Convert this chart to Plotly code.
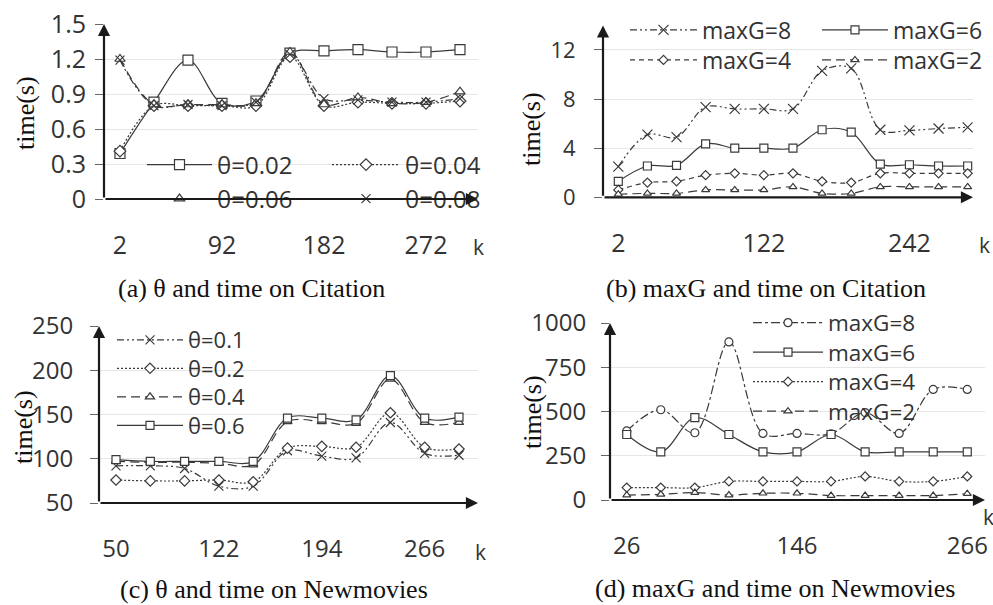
import plotly.graph_objects as go

W, H = 993, 605

# ---------------- data ----------------
k_a = [2, 32, 62, 92, 122, 152, 182, 212, 242, 272, 302]
theta002_a = [0.39, 0.83, 1.19, 0.82, 0.84, 1.25, 1.27, 1.28, 1.26, 1.26, 1.28]
theta004_a = [0.41, 0.80, 0.80, 0.80, 0.80, 1.22, 0.80, 0.83, 0.82, 0.82, 0.84]
theta006_a = [1.20, 0.81, 0.81, 0.81, 0.82, 1.26, 0.81, 0.87, 0.82, 0.83, 0.92]
theta008_a = [1.19, 0.80, 0.81, 0.80, 0.83, 1.24, 0.86, 0.85, 0.83, 0.83, 0.86]
ticks_a = [2, 92, 182, 272]

k_b = [2, 26, 50, 74, 98, 122, 146, 170, 194, 218, 242, 266, 290]
maxG8_b = [2.5, 5.1, 4.9, 7.35, 7.2, 7.2, 7.2, 10.3, 10.5, 5.5, 5.45, 5.6, 5.7]
maxG6_b = [1.3, 2.55, 2.6, 4.35, 4.0, 4.0, 4.0, 5.5, 5.3, 2.7, 2.65, 2.55, 2.55]
maxG4_b = [0.6, 1.2, 1.3, 1.8, 1.95, 1.8, 1.95, 1.3, 1.2, 1.95, 1.95, 1.95, 1.95]
maxG2_b = [0.25, 0.32, 0.32, 0.6, 0.6, 0.6, 0.85, 0.32, 0.32, 0.85, 0.85, 0.85, 0.85]
ticks_b = [2, 122, 242]

k_c = [50, 74, 98, 122, 146, 170, 194, 218, 242, 266, 290]
theta01_c = [92, 92, 89, 69, 69, 109, 103, 101, 141, 106, 104]
theta02_c = [76, 75, 75, 76, 74, 112, 114, 113, 152, 113, 111]
theta04_c = [97, 96, 96, 95, 93, 142, 142, 140, 190, 141, 141]
theta06_c = [99, 97, 97, 97, 97, 146, 146, 144, 194, 146, 147]
ticks_c = [50, 122, 194, 266]

k_d = [26, 50, 74, 98, 122, 146, 170, 194, 218, 242, 266]
maxG8_d = [390, 510, 380, 893, 376, 376, 374, 494, 376, 625, 625]
maxG6_d = [370, 272, 465, 370, 272, 272, 370, 272, 272, 272, 272]
maxG4_d = [70, 70, 70, 105, 105, 105, 105, 133, 105, 105, 133]
maxG2_d = [28, 32, 42, 28, 38, 38, 25, 25, 25, 25, 36]
ticks_d = [26, 146, 266]

captions = ["(a) θ and time on Citation", "(b) maxG and time on Citation",
            "(c) θ and time on Newmovies", "(d) maxG and time on Newmovies"]

# ---------------- styles ----------------
LC = "#3a3a3a"
SANS = "Open Sans"
SERIF = "Liberation Serif"
DASHDOTDOT = "7px,3px,2px,3px,2px,3px"
DOT = "2px,2px"
SDASH = "5px,4px"
LDASH = "9px,5px"


def px(x):
    return x / W


def py(y):
    return 1 - y / H


fig = go.Figure()
legends = {}
leg_count = [0]


def add(x, y, name, dash, symbol, size, xa, ya, leg_pos, fsize):
    """leg_pos = (line_start_px, line_len_px, row_center_px)"""
    leg_count[0] += 1
    lid = "legend" if leg_count[0] == 1 else "legend%d" % leg_count[0]
    ls, ll, ry = leg_pos
    legends[lid] = dict(x=px(ls - 5), y=py(ry), xanchor="left", yanchor="middle",
                        orientation="v", itemwidth=ll, bgcolor="rgba(0,0,0,0)",
                        borderwidth=0, font=dict(family=SANS, size=fsize, color="#333"))
    is_x = symbol.startswith("x")
    fig.add_trace(go.Scatter(
        x=x, y=y, name=name, mode="lines+markers",
        line=dict(color=LC, width=1.2, dash=dash, shape="spline", smoothing=1.0),
        marker=dict(symbol=symbol, size=size, color=LC if is_x else "white",
                    line=dict(color=LC, width=1.2)),
        xaxis=xa, yaxis=ya, legend=lid,
    ))


# panel a
add(k_a, theta002_a, "θ=0.02", "solid", "square", 10, "x", "y", (147, 65, 165), 24)
add(k_a, theta004_a, "θ=0.04", DOT, "diamond", 9, "x", "y", (332, 68, 165), 24)
add(k_a, theta006_a, "θ=0.06", LDASH, "triangle-up", 9, "x", "y", (147, 65, 199), 24)
add(k_a, theta008_a, "θ=0.08", DASHDOTDOT, "x-thin", 9, "x", "y", (332, 68, 199), 24)
# panel b
add(k_b, maxG8_b, "maxG=8", DASHDOTDOT, "x-thin", 10, "x2", "y2", (630, 67, 30), 23)
add(k_b, maxG6_b, "maxG=6", "solid", "square", 8, "x2", "y2", (822, 66, 30), 23)
add(k_b, maxG4_b, "maxG=4", SDASH, "diamond", 7, "x2", "y2", (630, 67, 60), 23)
add(k_b, maxG2_b, "maxG=2", LDASH, "triangle-up", 7, "x2", "y2", (822, 66, 60), 23)
# panel c
add(k_c, theta01_c, "θ=0.1", DASHDOTDOT, "x-thin", 9, "x3", "y3", (117, 66, 340), 22)
add(k_c, theta02_c, "θ=0.2", DOT, "diamond", 8, "x3", "y3", (117, 66, 368.5), 22)
add(k_c, theta04_c, "θ=0.4", LDASH, "triangle-up", 8, "x3", "y3", (117, 66, 397), 22)
add(k_c, theta06_c, "θ=0.6", "solid", "square", 8, "x3", "y3", (117, 66, 425.5), 22)
# panel d
add(k_d, maxG8_d, "maxG=8", "dashdot", "circle", 8, "x4", "y4", (753, 70, 323), 22.5)
add(k_d, maxG6_d, "maxG=6", "solid", "square", 8, "x4", "y4", (753, 70, 352.5), 22.5)
add(k_d, maxG4_d, "maxG=4", DOT, "diamond", 7, "x4", "y4", (753, 70, 382), 22.5)
add(k_d, maxG2_d, "maxG=2", LDASH, "triangle-up", 7, "x4", "y4", (753, 70, 411.5), 22.5)

panels = [
    dict(xd=(104, 478), yd=(24, 199), xr=[-12.1, 317.9], yr=[0, 1.5], xt=ticks_a,
         yt=[0, 0.3, 0.6, 0.9, 1.2, 1.5], ytt=["0", "0.3", "0.6", "0.9", "1.2", "1.5"],
         yf=25, xf=25, ys=4),
    dict(xd=(603, 973), yd=(25.4, 197.3), xr=[-10.6, 294.4], yr=[0, 14], xt=ticks_b,
         yt=[0, 4, 8, 12], ytt=["0", "4", "8", "12"], yf=22, xf=25, ys=14),
    dict(xd=(99, 478), yd=(326, 503), xr=[38.1, 303.3], yr=[50, 250], xt=ticks_c,
         yt=[50, 100, 150, 200, 250], ytt=["50", "100", "150", "200", "250"],
         yf=24, xf=24, ys=12),
    dict(xd=(610, 985), yd=(323, 500), xr=[14.2, 278.5], yr=[0, 1000], xt=ticks_d,
         yt=[0, 250, 500, 750, 1000], ytt=["0", "250", "500", "750", "1000"],
         yf=24, xf=24, ys=10),
]

layout = {}
annotations = []
for i, p in enumerate(panels):
    sfx = "" if i == 0 else str(i + 1)
    layout["xaxis" + sfx] = dict(
        domain=[px(p["xd"][0]), px(p["xd"][1])], range=p["xr"],
        tickvals=p["xt"], ticktext=[str(v) for v in p["xt"]],
        showgrid=False, zeroline=False, showline=False, ticks="",
        ticklabelstandoff=29, tickfont=dict(family=SANS, size=p["xf"], color="#333"),
        anchor="y" + sfx, fixedrange=True, automargin=False,
    )
    layout["yaxis" + sfx] = dict(
        domain=[py(p["yd"][1]), py(p["yd"][0])], range=p["yr"],
        tickvals=p["yt"], ticktext=p["ytt"],
        showgrid=True, gridcolor="#e6e6e6", gridwidth=1, zeroline=False, showline=False,
        ticks="outside", ticklen=8, tickcolor="#666", tickwidth=1,
        ticklabelstandoff=p["ys"], tickfont=dict(family=SANS, size=p["yf"], color="#333"),
        anchor="x" + sfx, fixedrange=True, automargin=False,
    )
    xr = "x" + sfx + " domain"
    yr = "y" + sfx + " domain"
    for (tx, ty) in [(1, 0), (0, 1)]:
        annotations.append(dict(
            xref=xr, yref=yr, axref=xr, ayref=yr, x=tx, y=ty, ax=0, ay=0,
            text="", showarrow=True, arrowhead=2, arrowsize=1.1, arrowwidth=2.2,
            arrowcolor="#1a1a1a", standoff=0, startstandoff=0,
        ))

# "k" labels
for (kx, ky) in [(478, 247), (984, 245), (480, 552), (988, 517)]:
    annotations.append(dict(xref="paper", yref="paper", x=px(kx), y=py(ky), text="k",
                            showarrow=False, font=dict(family=SANS, size=21, color="#333"),
                            xanchor="center", yanchor="middle"))
# y titles
for (tx, ty) in [(25, 113), (531, 129), (23, 427), (532, 412)]:
    annotations.append(dict(xref="paper", yref="paper", x=px(tx), y=py(ty), text="time(s)",
                            showarrow=False, textangle=-90,
                            font=dict(family=SERIF, size=26, color="#111"),
                            xanchor="center", yanchor="middle"))
# captions
for (cx, cy), txt in zip([(251, 288), (766, 288), (274, 589), (775, 588)], captions):
    annotations.append(dict(xref="paper", yref="paper", x=px(cx), y=py(cy), text=txt,
                            showarrow=False, font=dict(family=SERIF, size=26, color="#111"),
                            xanchor="center", yanchor="middle"))

layout.update(
    width=W, height=H, margin=dict(l=0, r=0, t=0, b=0, pad=0, autoexpand=False),
    paper_bgcolor="white", plot_bgcolor="white",
    annotations=annotations, showlegend=True,
)
layout.update(legends)
fig.update_layout(**layout)
fig.write_html("out.html")
